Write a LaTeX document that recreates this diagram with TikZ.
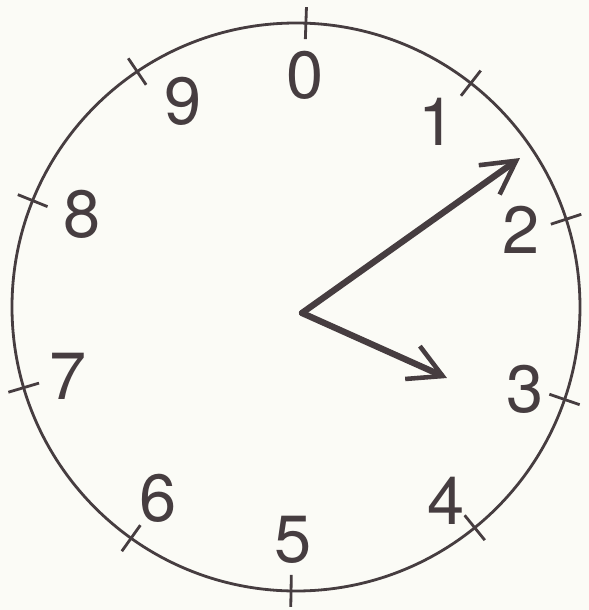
\documentclass[tikz,border=0pt]{standalone}
\usepackage{xcolor}
\usepackage{tikz}
\usepackage{fontspec}
\setmainfont{TeX Gyre Heros}
\usetikzlibrary{arrows.meta}

\definecolor{ink}{RGB}{70,61,64}
\definecolor{paper}{RGB}{251,251,246}

\begin{document}
\begin{tikzpicture}[x=0.02cm, y=0.02cm,
        digit/.style={font=\fontsize{38}{40}\selectfont, text=ink, inner sep=0pt},
        rim/.style={draw=ink, line width=1.6pt},
        tick/.style={draw=ink, line width=1.6pt},
        hand/.style={draw=ink, line width=3.6pt, line cap=round,
            -{Straight Barb[length=0.66cm, width=0.72cm, line width=2.6pt]}}
    ]
        % Frame
        \fill [paper] (-296,-303) rectangle (293,307);
        \useasboundingbox (-296,-303) rectangle (293,307);

        % Dial
        \draw [rim] (0,0) circle (284);
        \foreach \a in {88,52,18,-19,-51,-91,-125.5,-163.5,158,124}
            \draw [tick] (\a:268) -- (\a:300);

        % Nodes
        \node [digit] (n0) at (9,232) {0};
        \node [digit] (n1) at (141,185) {1};
        \node [digit] (n2) at (225,77) {2};
        \node [digit] (n3) at (229,-82) {3};
        \node [digit] (n4) at (150,-194) {4};
        \node [digit] (n5) at (-3,-233) {5};
        \node [digit] (n6) at (-138,-191) {6};
        \node [digit] (n7) at (-228,-69) {7};
        \node [digit] (n8) at (-214,93) {8};
        \node [digit] (n9) at (-113,206) {9};

        \coordinate (pivot) at (6,-6);
        \coordinate (longtip) at (224,149);
        \coordinate (shorttip) at (151,-71);

        % Connections
        \draw [hand] (pivot) -- (longtip);
        \draw [hand] (pivot) -- (shorttip);

    \end{tikzpicture}
\end{document}
